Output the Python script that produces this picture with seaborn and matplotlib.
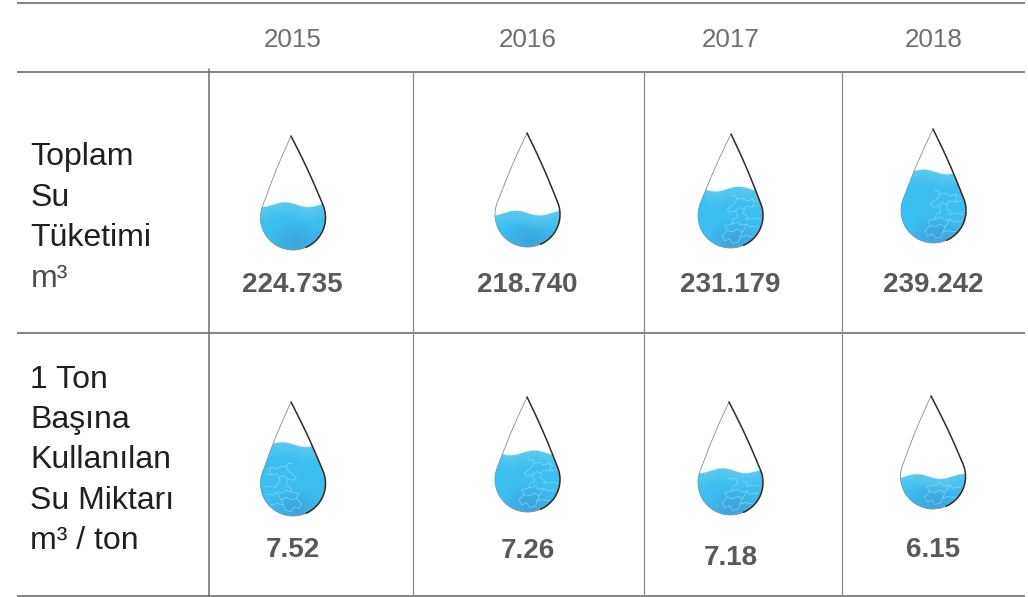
import numpy as np
import pandas as pd
import seaborn as sns
import matplotlib
matplotlib.use("Agg")
import matplotlib.pyplot as plt
from matplotlib.path import Path
from matplotlib.patches import PathPatch

# ---- data ----
years = ["2015", "2016", "2017", "2018"]
total_use = [224.735, 218.740, 231.179, 239.242]
per_ton = [7.52, 7.26, 7.18, 6.15]
row_labels = [["Toplam", "Su", "Tüketimi", "m³"],
              ["1 Ton", "Başına", "Kullanılan", "Su Miktarı", "m³ / ton"]]
# share of the drop's height that is filled
fill_total = [0.40, 0.30, 0.52, 0.627]
fill_ton = [0.63, 0.517, 0.394, 0.29]

# ---- layout (pixels) ----
year_x = [292.5, 527.5, 731, 934]
val_x = [292.5, 527.5, 730.5, 933.5]
val_y = [[285, 285, 285, 285], [550, 551, 558, 550]]
tip_x = [[291, 527, 731, 933], [291, 527, 729, 931]]
tip_y = [[136, 133, 134, 129], [402, 397, 402, 396]]
bot_y = [[250, 247, 248, 243], [516, 512, 515, 509]]
ctr_x = [[293, 527.5, 730.5, 933.5], [293, 527.5, 730.5, 933]]
wave_phase = [[-0.5, 0.03, -2.64, -0.17], [-0.1, 3.9, -0.44, 0.56]]
cracked = [[False, False, True, True], [True, True, True, True]]
crack_side = [[1, 1, 1, 1], [-1, 1, 1, 1]]
R = 32.5

sns.set_theme(style="white")
plt.rcParams["font.family"] = ["Liberation Sans", "DejaVu Sans"]
fig, ax = plt.subplots(figsize=(10.28, 5.97), dpi=100)
ax.set_position([0, 0, 1, 1])
ax.set_xlim(0, 1028)
ax.set_ylim(597, 0)
ax.axis("off")

RULE = "#77787b"
for y in (3, 72, 333, 596):
    ax.plot([17, 1025], [y, y], color=RULE, lw=1.3, solid_capstyle="butt")
ax.plot([209, 209], [69, 596], color="#6d6e71", lw=1.1)
for x in (413, 644, 842):
    ax.plot([x, x], [72, 596], color="#8a8b8d", lw=0.9)

for x, yr in zip(year_x, years):
    ax.text(x, 40, yr, ha="center", va="center", fontsize=18.7, color="#6d6e71")

for row, first_y, step in [(0, 157, 40.7), (1, 380, 40.2)]:
    for i, line in enumerate(row_labels[row]):
        color = "#4d4d4f" if (row == 0 and line == "m³") else "#231f20"
        ax.text(30.5, first_y + i * step, line, ha="left", va="center",
                fontsize=23, color=color)

for row, (values, fmt) in enumerate([(total_use, "{:.3f}"), (per_ton, "{:.2f}")]):
    for c, v in enumerate(values):
        ax.text(val_x[c], val_y[row][c], fmt.format(v), ha="center", va="center",
                fontsize=20, fontweight="bold", color="#58595b")


def drop_outline(cx, tx, ty, by):
    """Teardrop: a circle and two slightly bowed flanks, walked clockwise from the tip."""
    cy = by - R
    a = np.arccos(R / (cy - ty))
    th = np.linspace(a, 2 * np.pi - a, 160)
    arc_x, arc_y = cx + R * np.sin(th), cy - R * np.cos(th)
    s = np.linspace(0, 1, 60)
    bow = 1.0 * np.sin(np.pi * s)
    rx = tx + s * (arc_x[0] - tx) + bow
    ry = ty + s * (arc_y[0] - ty)
    lx = (arc_x[-1] + s * (tx - arc_x[-1])) - bow[::-1]
    ly = arc_y[-1] + s * (ty - arc_y[-1])
    return np.r_[rx, arc_x, lx], np.r_[ry, arc_y, ly]


# decorative hairline texture, as fractions of the radius from the circle centre
crack_u = [
    [(0.02, -0.60), (0.15, -0.62), (0.20, -0.50), (0.38, -0.54), (0.48, -0.44), (0.68, -0.50), (0.82, -0.42)],
    [(0.20, -0.50), (0.12, -0.36), (0.02, -0.30), (-0.10, -0.18), (-0.02, -0.10), (0.16, -0.14), (0.28, -0.24)],
    [(0.28, -0.24), (0.42, -0.20), (0.50, -0.30), (0.66, -0.26), (0.86, -0.30)],
    [(0.42, -0.20), (0.40, -0.05), (0.52, 0.02), (0.50, 0.12), (0.70, 0.08), (0.92, 0.12)],
    [(0.16, -0.14), (0.22, 0.05), (0.08, 0.12), (0.04, 0.26), (-0.18, 0.32), (-0.10, 0.46)],
    [(0.04, 0.26), (0.24, 0.20), (0.32, 0.30), (0.50, 0.26), (0.60, 0.36), (0.84, 0.32)],
    [(-0.10, 0.46), (0.06, 0.50), (0.20, 0.42), (0.36, 0.50), (0.30, 0.66), (0.48, 0.62), (0.70, 0.66)],
    [(-0.10, 0.46), (-0.26, 0.62), (-0.18, 0.78), (-0.02, 0.72), (0.06, 0.86), (0.24, 0.82), (0.30, 0.66)],
    [(0.50, 0.26), (0.42, 0.42), (0.36, 0.50)],
    [(0.68, -0.50), (0.72, -0.34), (0.66, -0.26)],
]


def draw_drop(row, c, frac):
    cx, tx, ty, by = ctr_x[row][c], tip_x[row][c], tip_y[row][c], bot_y[row][c]
    xs, ys = drop_outline(cx, tx, ty, by)
    clip = PathPatch(Path(np.c_[xs, ys]), transform=ax.transData, fc="none", ec="none")
    ax.add_patch(clip)

    level = by - frac * (by - ty)
    x0, x1 = cx - 36, cx + 36
    y0, y1 = by - 82, by + 2
    gx, gy = np.meshgrid(np.linspace(x0, x1, 288), np.linspace(y0, y1, 336))
    wave = level + 2.4 * np.sin((gx - cx) / 7.5 + wave_phase[row][c])
    alpha = np.clip((gy - wave) * 2, 0, 1)
    base = np.array([0.235, 0.750, 0.945])
    dark = np.array([0.235, 0.640, 0.860])
    light = np.array([0.360, 0.790, 0.930])
    d = np.hypot((gx - cx - 3) / 30, (gy - by + 6) / 24)
    t = np.clip(1 - d, 0, 1)[..., None]
    u = np.clip(1 - (gy - wave) / 16, 0, 1)[..., None]
    rgb = base * (1 - t) + dark * t
    rgb = rgb * (1 - u) + light * u
    img = ax.imshow(np.dstack([rgb, alpha]), extent=(x0, x1, y1, y0), zorder=2,
                    interpolation="bilinear", aspect="auto")
    img.set_clip_path(clip)

    if cracked[row][c]:
        s = crack_side[row][c]
        for seg in crack_u:
            px = [cx + s * R * u_ for u_, _ in seg]
            py = [by - R + R * v for _, v in seg]
            keep = [(a, b) for a, b in zip(px, py) if b > level + 6]
            if len(keep) > 1:
                ln, = ax.plot(*zip(*keep), color="#9bdcf5", lw=0.4, zorder=3)
                ln.set_clip_path(clip)

    # thin grey left flank and rim, heavier dark right flank
    n_flank, n_arc = 60, 160
    right_end = n_flank + int(n_arc * 0.40)
    right = pd.DataFrame({"x": xs[:right_end], "y": ys[:right_end]})
    left = pd.DataFrame({"x": xs[right_end:], "y": ys[right_end:]})
    sns.lineplot(data=left, x="x", y="y", sort=False, estimator=None,
                 color="#8a8c8f", lw=0.6, ax=ax, zorder=4)
    sns.lineplot(data=right, x="x", y="y", sort=False, estimator=None,
                 color="#2b2b2b", lw=1.1, ax=ax, zorder=4)


for c, f in enumerate(fill_total):
    draw_drop(0, c, f)
for c, f in enumerate(fill_ton):
    draw_drop(1, c, f)

ax.set_xlim(0, 1028)
ax.set_ylim(597, 0)
ax.set_xlabel("")
ax.set_ylabel("")
fig.savefig("out.png", dpi=100, facecolor="white")
